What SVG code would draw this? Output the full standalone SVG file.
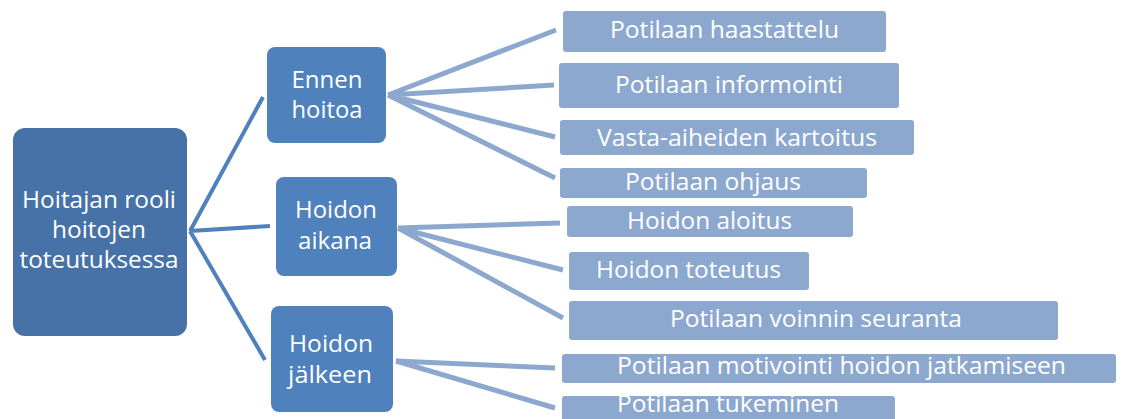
<svg xmlns="http://www.w3.org/2000/svg" width="1123" height="419" viewBox="0 0 1123 419">
<style>
text{font-family:"Open Sans","Liberation Sans",sans-serif;font-size:23px;fill:#ffffff;text-anchor:middle}
.root{fill:#4672A8}
.mid{fill:#4F81BD}
.leaf{fill:#8DA8CE}
.c1{stroke:#4F81BD;stroke-width:4;fill:none}
.c2{stroke:#8DA8CE;stroke-width:5;fill:none}
</style>
<rect width="1123" height="419" fill="#ffffff"/>
<g id="connectors">
<path class="c1" d="M190,231 L263,97 M190,231 L270,226 M190,231 L265,360"/>
<path class="c2" d="M388,95 L556,30 M388,95 L554,85 M388,95 L555,137 M388,95 L555,178"/>
<path class="c2" d="M398,228 L560,223 M398,228 L563,270 M398,228 L563,318"/>
<path class="c2" d="M396,361 L555,368 M396,361 L555,408"/>
</g>
<g id="root">
<rect class="root" x="13" y="128" width="174" height="208" rx="12"/>
<text x="99" y="208" textLength="154" lengthAdjust="spacingAndGlyphs">Hoitajan rooli</text>
<text x="99" y="238" textLength="94" lengthAdjust="spacingAndGlyphs">hoitojen</text>
<text x="99" y="268" textLength="159" lengthAdjust="spacingAndGlyphs">toteutuksessa</text>
</g>
<g id="ennen">
<rect class="mid" x="267" y="47" width="119" height="96" rx="8"/>
<text x="327" y="88" textLength="71" lengthAdjust="spacingAndGlyphs">Ennen</text>
<text x="327" y="118" textLength="71" lengthAdjust="spacingAndGlyphs">hoitoa</text>
</g>
<g id="aikana">
<rect class="mid" x="276" y="177" width="121" height="99" rx="8"/>
<text x="336" y="218" textLength="82" lengthAdjust="spacingAndGlyphs">Hoidon</text>
<text x="335" y="249" textLength="74" lengthAdjust="spacingAndGlyphs">aikana</text>
</g>
<g id="jalkeen">
<rect class="mid" x="271" y="306" width="122" height="106" rx="8"/>
<text x="331" y="352" textLength="84" lengthAdjust="spacingAndGlyphs">Hoidon</text>
<text x="330" y="383" textLength="84" lengthAdjust="spacingAndGlyphs">jälkeen</text>
</g>
<g id="leaf1">
<rect class="leaf" x="563" y="11" width="323" height="41" rx="3"/>
<text x="724.5" y="38" textLength="229" lengthAdjust="spacingAndGlyphs">Potilaan haastattelu</text>
</g>
<g id="leaf2">
<rect class="leaf" x="559" y="63" width="340" height="45" rx="3"/>
<text x="729" y="93" textLength="228" lengthAdjust="spacingAndGlyphs">Potilaan informointi</text>
</g>
<g id="leaf3">
<rect class="leaf" x="560" y="120" width="354" height="35" rx="3"/>
<text x="737" y="146" textLength="280" lengthAdjust="spacingAndGlyphs">Vasta-aiheiden kartoitus</text>
</g>
<g id="leaf4">
<rect class="leaf" x="560" y="168" width="307" height="30" rx="3"/>
<text x="713" y="190" textLength="176" lengthAdjust="spacingAndGlyphs">Potilaan ohjaus</text>
</g>
<g id="leaf5">
<rect class="leaf" x="567" y="206" width="286" height="31" rx="3"/>
<text x="709.5" y="229" textLength="165" lengthAdjust="spacingAndGlyphs">Hoidon aloitus</text>
</g>
<g id="leaf6">
<rect class="leaf" x="569" y="252" width="240" height="38" rx="3"/>
<text x="688.5" y="278" textLength="185" lengthAdjust="spacingAndGlyphs">Hoidon toteutus</text>
</g>
<g id="leaf7">
<rect class="leaf" x="569" y="301" width="489" height="39" rx="3"/>
<text x="816" y="327" textLength="292" lengthAdjust="spacingAndGlyphs">Potilaan voinnin seuranta</text>
</g>
<g id="leaf8">
<rect class="leaf" x="562" y="354" width="554" height="29" rx="3"/>
<text x="841.5" y="374" textLength="449" lengthAdjust="spacingAndGlyphs">Potilaan motivointi hoidon jatkamiseen</text>
</g>
<g id="leaf9">
<rect class="leaf" x="562" y="396" width="333" height="30" rx="3"/>
<text x="728" y="412" textLength="222" lengthAdjust="spacingAndGlyphs">Potilaan tukeminen</text>
</g>
</svg>
